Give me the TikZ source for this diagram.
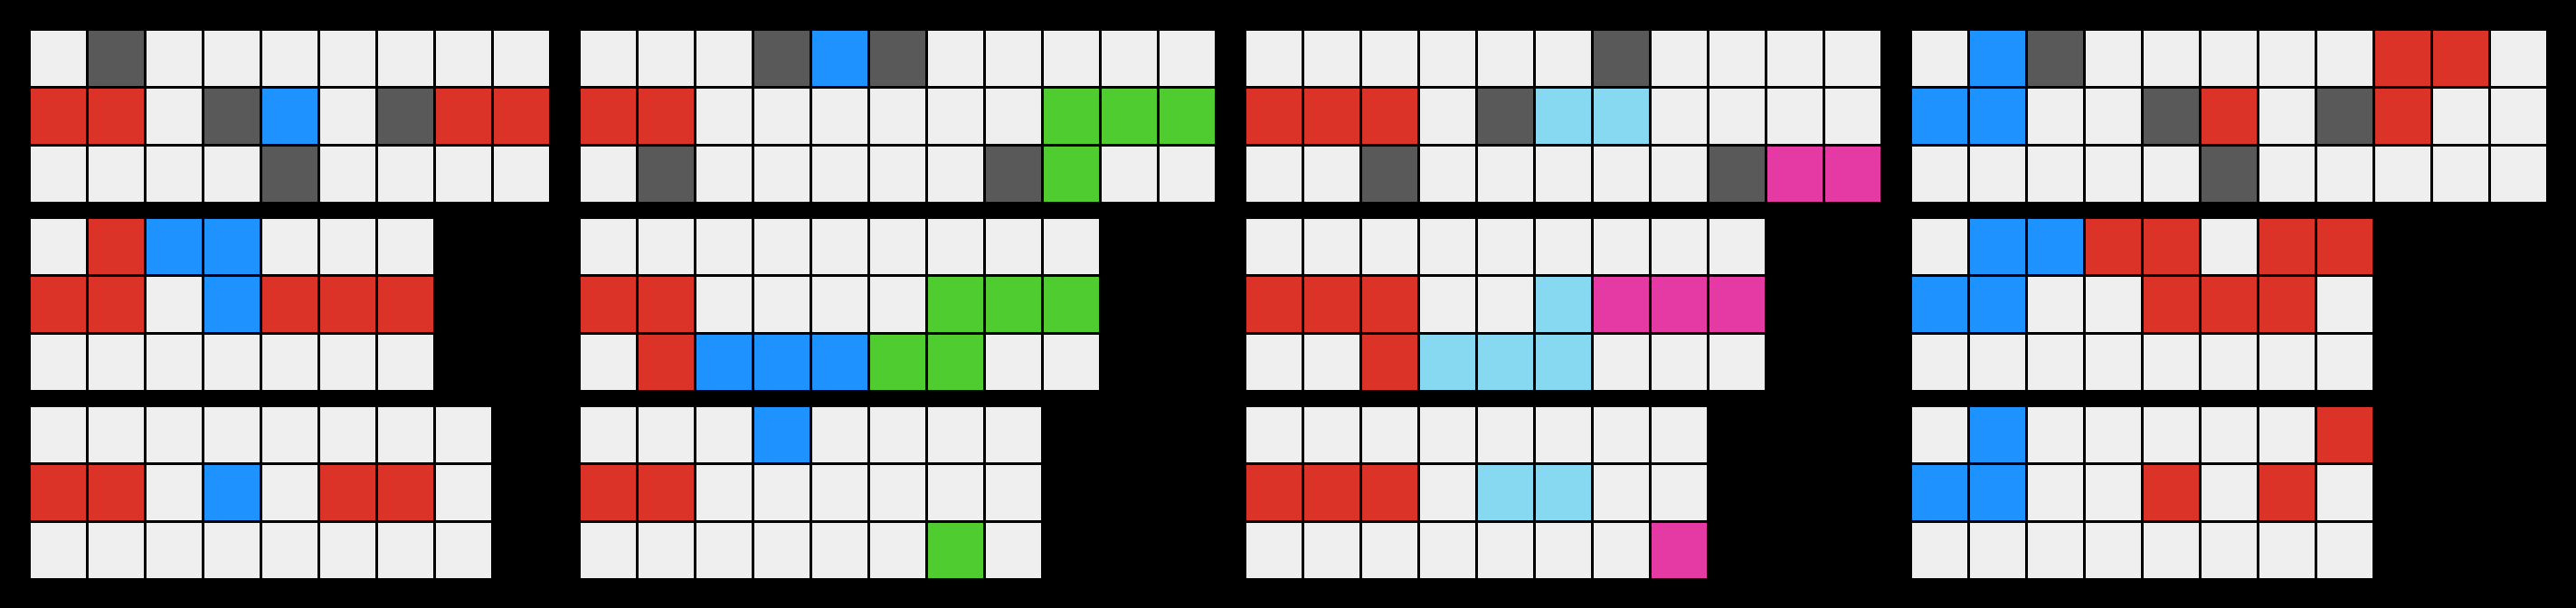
\documentclass[tikz,border=0pt]{standalone}
\usepackage{tikz}
\definecolor{cellW}{HTML}{EFEFEF}
\definecolor{cellK}{HTML}{595959}
\definecolor{cellR}{HTML}{DC3329}
\definecolor{cellB}{HTML}{1E93FF}
\definecolor{cellG}{HTML}{4FCC30}
\definecolor{cellC}{HTML}{87D8F1}
\definecolor{cellM}{HTML}{E53AA3}
\tikzset{
    cell/.style={
        rectangle,
        fill=cell#1,
        minimum size=15.25pt,
        inner sep=0pt,
        outer sep=0pt,
        anchor=north west
    },
    board/.style={
        fill=black
    }
}
% one grid: name, left, top, rows
\newcommand{\cellgrid}[4]{%
    \foreach \cells [count=\r] in {#4} {
        \foreach \c [count=\k] in \cells {
            \node (#1-\r-\k) [cell=\c] at ({#2+\k-1},{#3+\r-1}) {};
        }
    }
}

\begin{document}
\begin{tikzpicture}[x=16pt, y=-16pt]
        % Background
        \fill[board] (0,0) rectangle (44.5,10.5);

        % Panel 1
        \cellgrid{pa1}{0.53125}{0.53125}{{W,K,W,W,W,W,W,W,W},{R,R,W,K,B,W,K,R,R},{W,W,W,W,K,W,W,W,W}}
        \cellgrid{pa2}{0.53125}{3.78125}{{W,R,B,B,W,W,W},{R,R,W,B,R,R,R},{W,W,W,W,W,W,W}}
        \cellgrid{pa3}{0.53125}{7.03125}{{W,W,W,W,W,W,W,W},{R,R,W,B,W,R,R,W},{W,W,W,W,W,W,W,W}}

        % Panel 2
        \cellgrid{pb1}{10.03125}{0.53125}{{W,W,W,K,B,K,W,W,W,W,W},{R,R,W,W,W,W,W,W,G,G,G},{W,K,W,W,W,W,W,K,G,W,W}}
        \cellgrid{pb2}{10.03125}{3.78125}{{W,W,W,W,W,W,W,W,W},{R,R,W,W,W,W,G,G,G},{W,R,B,B,B,G,G,W,W}}
        \cellgrid{pb3}{10.03125}{7.03125}{{W,W,W,B,W,W,W,W},{R,R,W,W,W,W,W,W},{W,W,W,W,W,W,G,W}}

        % Panel 3
        \cellgrid{pc1}{21.53125}{0.53125}{{W,W,W,W,W,W,K,W,W,W,W},{R,R,R,W,K,C,C,W,W,W,W},{W,W,K,W,W,W,W,W,K,M,M}}
        \cellgrid{pc2}{21.53125}{3.78125}{{W,W,W,W,W,W,W,W,W},{R,R,R,W,W,C,M,M,M},{W,W,R,C,C,C,W,W,W}}
        \cellgrid{pc3}{21.53125}{7.03125}{{W,W,W,W,W,W,W,W},{R,R,R,W,C,C,W,W},{W,W,W,W,W,W,W,M}}

        % Panel 4
        \cellgrid{pd1}{33.03125}{0.53125}{{W,B,K,W,W,W,W,W,R,R,W},{B,B,W,W,K,R,W,K,R,W,W},{W,W,W,W,W,K,W,W,W,W,W}}
        \cellgrid{pd2}{33.03125}{3.78125}{{W,B,B,R,R,W,R,R},{B,B,W,W,R,R,R,W},{W,W,W,W,W,W,W,W}}
        \cellgrid{pd3}{33.03125}{7.03125}{{W,B,W,W,W,W,W,R},{B,B,W,W,R,W,R,W},{W,W,W,W,W,W,W,W}}
    \end{tikzpicture}
\end{document}
